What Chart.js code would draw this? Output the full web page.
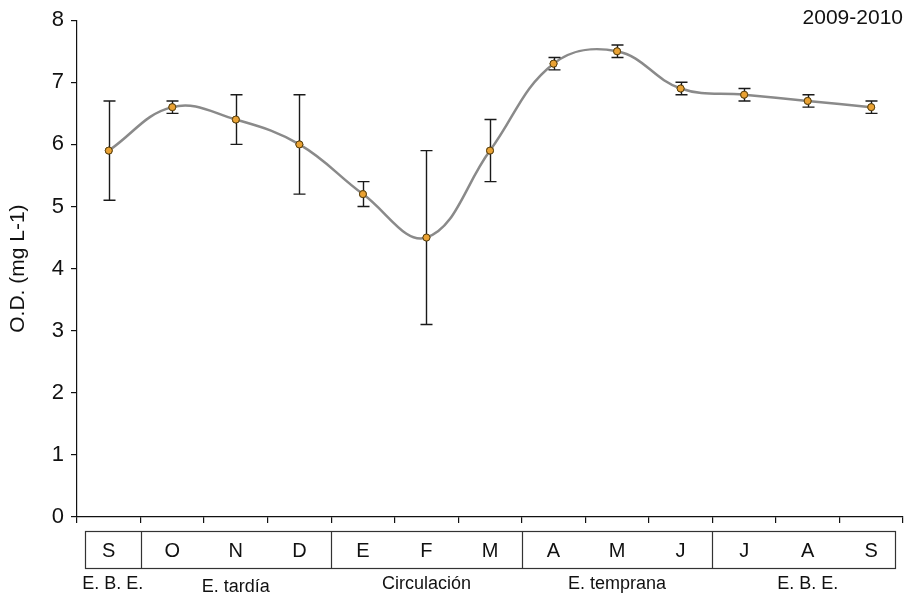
<!DOCTYPE html>
<html>
<head>
<meta charset="utf-8">
<script src="https://cdn.jsdelivr.net/npm/chart.js@4"></script>
<style>
  body { margin: 0; background: #fff; }
  #wrap { width: 913px; height: 596px; }
</style>
</head>
<body>
<div id="wrap"><canvas id="od-chart" width="913" height="596"></canvas></div>
<script>
// Meses del ciclo 2009-2010
const months = ['S', 'O', 'N', 'D', 'E', 'F', 'M', 'A', 'M', 'J', 'J', 'A', 'S'];
// Oxígeno disuelto (mg L-1) y desviación
const odValues = [5.9, 6.6, 6.4, 6.0, 5.2, 4.5, 5.9, 7.3, 7.5, 6.9, 6.8, 6.7, 6.6];
const odError = [0.8, 0.1, 0.4, 0.8, 0.2, 1.4, 0.5, 0.1, 0.1, 0.1, 0.1, 0.1, 0.1];
// Periodos (índice del primer y último mes)
const seasons = ['E. B. E.', 'E. tardía', 'Circulación', 'E. temprana', 'E. B. E.'];
const seasonFirst = [0, 1, 4, 7, 10];
const seasonLast = [0, 3, 6, 9, 12];
const yTitle = 'O.D. (mg L-1)';
const periodLabel = '2009-2010';

const FONT = "'Liberation Sans', Arial, sans-serif";

// Barras de error
const errorBars = {
    id: 'errorBars',
    afterDatasetsDraw(chart) {
        const ctx = chart.ctx;
        const x = chart.scales.x, y = chart.scales.y;
        ctx.save();
        ctx.strokeStyle = '#1a1a1a';
        ctx.lineWidth = 1.4;
        odValues.forEach((v, i) => {
            const px = Math.round(x.getPixelForValue(i)) + 0.5;
            const top = y.getPixelForValue(v + odError[i]);
            const bot = y.getPixelForValue(v - odError[i]);
            ctx.beginPath();
            ctx.moveTo(px, top); ctx.lineTo(px, bot);
            ctx.moveTo(px - 6, top); ctx.lineTo(px + 6, top);
            ctx.moveTo(px - 6, bot); ctx.lineTo(px + 6, bot);
            ctx.stroke();
        });
        // redibuja los marcadores encima
        const meta = chart.getDatasetMeta(0);
        meta.data.forEach(pt => pt.draw(ctx, chart.chartArea));
        ctx.restore();
    }
};

// Caja de meses y etiquetas de periodo
const seasonBox = {
    id: 'seasonBox',
    beforeDraw(chart) {
        const ctx = chart.ctx;
        const x = chart.scales.x;
        const step = x.getPixelForValue(1) - x.getPixelForValue(0);
        const left = chart.chartArea.left + 8, right = chart.chartArea.right - 8;
        const top = 531.5, bottom = 568.5;
        ctx.save();
        ctx.strokeStyle = '#333';
        ctx.lineWidth = 1.2;
        ctx.strokeRect(left + 0.5, top, right - left, bottom - top);
        ctx.beginPath();
        seasonLast.slice(0, -1).forEach(last => {
            const bx = Math.round(x.getPixelForValue(last) + step / 2) + 0.5;
            ctx.moveTo(bx, top); ctx.lineTo(bx, bottom);
        });
        ctx.stroke();

        ctx.fillStyle = '#111';
        ctx.font = '18px ' + FONT;
        ctx.textAlign = 'center';
        ctx.textBaseline = 'middle';
        seasons.forEach((s, i) => {
            const cx = (x.getPixelForValue(seasonFirst[i]) + x.getPixelForValue(seasonLast[i])) / 2;
            ctx.fillText(s, cx + (i === 0 ? 4 : 0), i === 1 ? 587 : 584);
        });

        ctx.font = '21px ' + FONT;
        ctx.textAlign = 'right';
        ctx.fillText(periodLabel, chart.chartArea.right, 18);
        ctx.restore();
    }
};

new Chart(document.getElementById('od-chart').getContext('2d'), {
    type: 'line',
    data: {
        labels: months,
        datasets: [{
            data: odValues,
            borderColor: '#8a8a8a',
            borderWidth: 2.5,
            tension: 0.4,
            pointRadius: 3.5,
            pointBackgroundColor: '#eaa233',
            pointBorderColor: '#5b4312',
            pointBorderWidth: 1
        }]
    },
    options: {
        responsive: false,
        animation: false,
        layout: { padding: { top: 17, right: 10, left: 0, bottom: 0 } },
        plugins: {
            legend: { display: false },
            tooltip: { enabled: false }
        },
        scales: {
            x: {
                offset: true,
                afterFit: s => { s.height = 79; },
                border: { color: '#111', width: 1.2 },
                grid: { offset: true, drawOnChartArea: false, drawTicks: true, tickLength: 6, color: '#111', lineWidth: 1.2 },
                ticks: { color: '#111', font: { family: FONT, size: 20 }, padding: 16, maxRotation: 0 }
            },
            y: {
                min: 0,
                max: 8,
                afterFit: s => { s.width = 77; },
                border: { color: '#111', width: 1.2 },
                grid: { drawOnChartArea: false, drawTicks: true, tickLength: 6, color: '#111', lineWidth: 1.2 },
                ticks: { stepSize: 1, color: '#111', font: { family: FONT, size: 22 }, padding: 7 },
                title: { display: true, text: yTitle, color: '#111', font: { family: FONT, size: 21 }, padding: { top: 6, bottom: 0 } }
            }
        }
    },
    plugins: [errorBars, seasonBox]
});
</script>
</body>
</html>
